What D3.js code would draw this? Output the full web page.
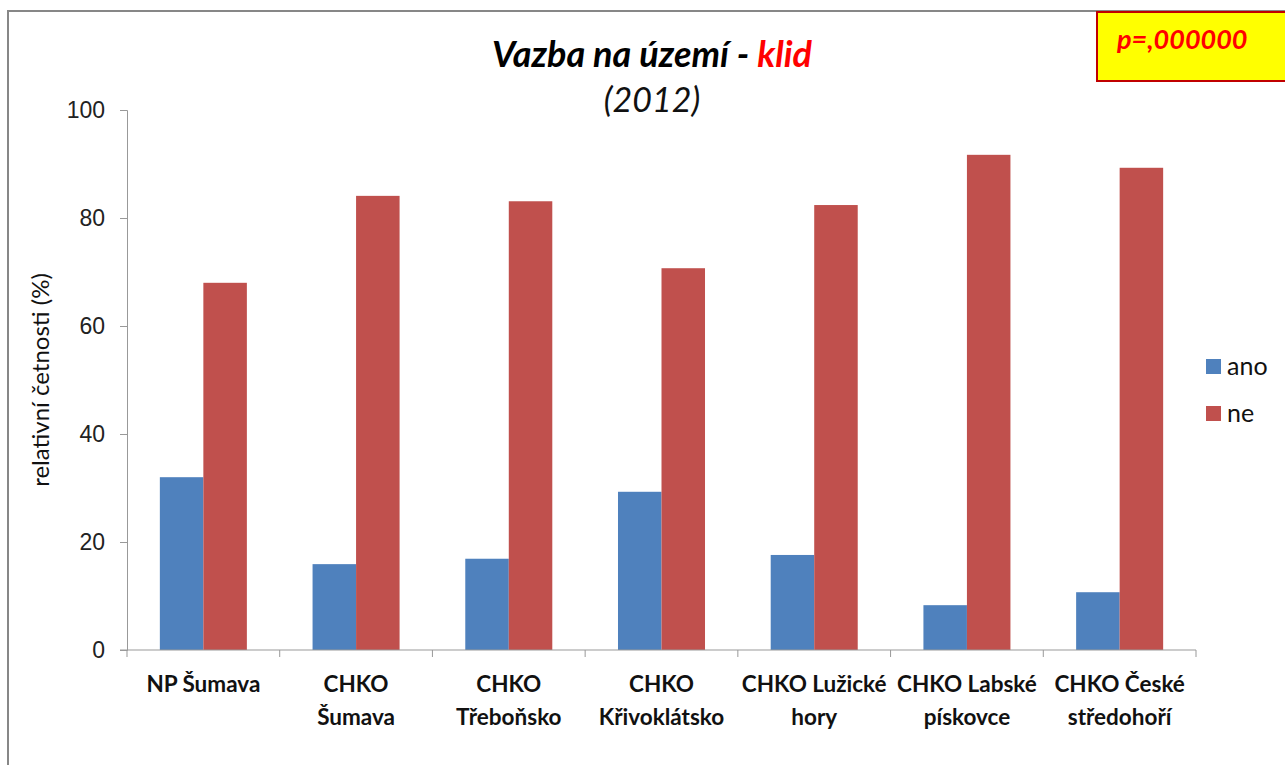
<!DOCTYPE html>
<html>
<head>
<meta charset="utf-8">
<script src="https://cdn.jsdelivr.net/npm/d3@7"></script>
<style>
  body { margin: 0; background: #fff; }
  svg { font-family: Lato, "Open Sans", sans-serif; }
</style>
</head>
<body>
<svg id="chart"></svg>
<script>
// data
const categories = [
  ["NP Šumava"],
  ["CHKO", "Šumava"],
  ["CHKO", "Třeboňsko"],
  ["CHKO", "Křivoklátsko"],
  ["CHKO Lužické", "hory"],
  ["CHKO Labské", "pískovce"],
  ["CHKO České", "středohoří"]
];
const seriesNames = ["ano", "ne"];
const anoValues = [32.0, 15.9, 16.9, 29.3, 17.6, 8.3, 10.7];
const neValues = [68.0, 84.1, 83.1, 70.7, 82.4, 91.7, 89.3];
const yTicks = [0, 20, 40, 60, 80, 100];

const colors = { ano: "#4F81BD", ne: "#C0504D" };

const width = 1285, height = 765;
const margin = { top: 110, right: 89, bottom: 115, left: 127 };

const svg = d3.select("#chart").attr("width", width).attr("height", height);

// outer frame
svg.append("rect")
  .attr("x", 8).attr("y", 11)
  .attr("width", 1290).attr("height", 770)
  .attr("fill", "#fff")
  .attr("stroke", "#878787")
  .attr("stroke-width", 2);

const keys = categories.map((d, i) => i);
const data = keys.map(i => ({ i, ano: anoValues[i], ne: neValues[i] }));

const x = d3.scaleBand()
  .domain(keys)
  .range([margin.left, width - margin.right])
  .paddingInner(0)
  .paddingOuter(0);

const inner = d3.scaleBand()
  .domain(seriesNames)
  .range([0, x.bandwidth()])
  .paddingInner(0)
  .paddingOuter(0.755);

const y = d3.scaleLinear()
  .domain([0, 100])
  .range([height - margin.bottom, margin.top]);

// bars
const groups = svg.append("g")
  .selectAll("g")
  .data(data)
  .join("g")
  .attr("transform", d => `translate(${x(d.i)},0)`);

groups.selectAll("rect")
  .data(d => seriesNames.map(k => ({ key: k, value: d[k] })))
  .join("rect")
  .attr("x", d => inner(d.key))
  .attr("width", inner.bandwidth())
  .attr("y", d => y(d.value))
  .attr("height", d => y(0) - y(d.value))
  .attr("fill", d => colors[d.key]);

// y axis
const yAxis = svg.append("g")
  .attr("transform", `translate(${margin.left},0)`)
  .call(d3.axisLeft(y).tickValues(yTicks).tickSize(7).tickPadding(15));
yAxis.selectAll("text")
  .style("font-size", "23px")
  .style("fill", "#222");
yAxis.selectAll("line, path").attr("stroke", "#999");

// x axis: ticks at band boundaries
const xAxisG = svg.append("g")
  .attr("transform", `translate(0,${y(0)})`);
xAxisG.append("line")
  .attr("x1", margin.left - 7).attr("x2", width - margin.right)
  .attr("stroke", "#999");
xAxisG.selectAll(".xt")
  .data(keys.concat([keys.length]))
  .join("line")
  .attr("class", "xt")
  .attr("x1", d => d < keys.length ? x(d) : x(keys.length - 1) + x.bandwidth())
  .attr("x2", d => d < keys.length ? x(d) : x(keys.length - 1) + x.bandwidth())
  .attr("y1", 0).attr("y2", 7)
  .attr("stroke", "#999");

// category labels
const labels = svg.append("g")
  .selectAll("text")
  .data(keys)
  .join("text")
  .attr("x", d => x(d) + x.bandwidth() / 2)
  .attr("y", 692)
  .attr("text-anchor", "middle")
  .style("font-size", "22.5px")
  .style("font-weight", "bold")
  .style("fill", "#111");
labels.selectAll("tspan")
  .data(d => categories[d].map(t => ({ t, cx: x(d) + x.bandwidth() / 2 })))
  .join("tspan")
  .attr("x", d => d.cx)
  .attr("dy", (d, j) => j === 0 ? 0 : 33)
  .text(d => d.t);

// y axis title
svg.append("text")
  .attr("transform", "translate(49,380) rotate(-90)")
  .attr("text-anchor", "middle")
  .style("font-size", "24px")
  .style("fill", "#111")
  .text("relativní četnosti (%)");

// title
const title = svg.append("text")
  .attr("x", 652).attr("y", 67)
  .attr("text-anchor", "middle")
  .style("font-size", "36px")
  .style("font-weight", "bold")
  .style("font-style", "italic");
title.append("tspan").attr("fill", "#000").text("Vazba na území - ");
title.append("tspan").attr("fill", "#FF0000").text("klid");

svg.append("text")
  .attr("x", 652).attr("y", 112)
  .attr("text-anchor", "middle")
  .style("font-size", "34px")
  .style("font-style", "italic")
  .style("fill", "#111")
  .text("(2012)");

// legend
const legend = svg.append("g")
  .selectAll("g")
  .data(seriesNames)
  .join("g")
  .attr("transform", (d, i) => `translate(1206,${359 + i * 47})`);
legend.append("rect")
  .attr("width", 15).attr("height", 15)
  .attr("fill", d => colors[d]);
legend.append("text")
  .attr("x", 21).attr("y", 16)
  .style("font-size", "25px")
  .style("fill", "#111")
  .text(d => d);

// p-value box
svg.append("rect")
  .attr("x", 1097).attr("y", 12)
  .attr("width", 200).attr("height", 69)
  .attr("fill", "#FFFF00")
  .attr("stroke", "#C00000")
  .attr("stroke-width", 2);
svg.append("text")
  .attr("x", 1117).attr("y", 49)
  .style("font-size", "27px")
  .style("font-weight", "bold")
  .style("font-style", "italic")
  .style("fill", "#FF0000")
  .text("p=,000000");
</script>
</body>
</html>
